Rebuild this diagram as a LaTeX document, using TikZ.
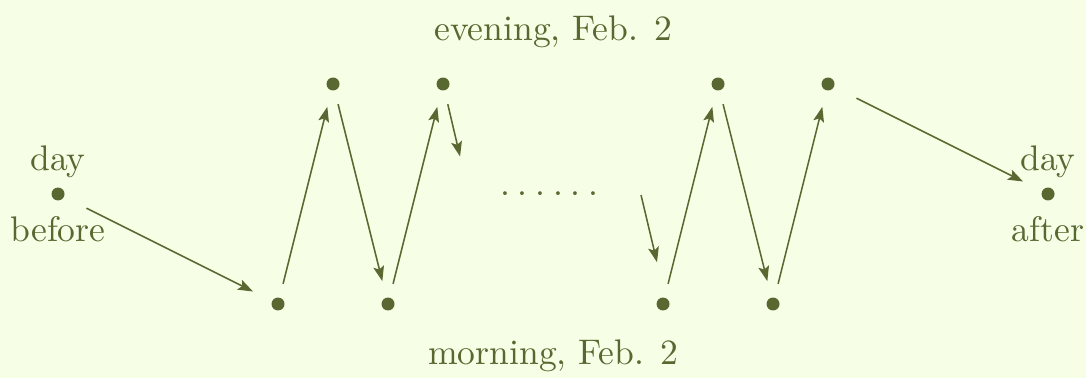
\documentclass[tikz,border=0pt]{standalone}
\usetikzlibrary{arrows.meta, positioning}
% use the 10pt design at every size
\DeclareFontShape{TU}{lmr}{m}{n}{<-> \UnicodeFontFile{lmroman10-regular}{\UnicodeFontTeXLigatures}}{}

\definecolor{paper}{RGB}{246,255,230}
\definecolor{olive}{RGB}{89,103,49}

\tikzset{
    dot/.style={circle, fill=olive, inner sep=0pt, outer sep=0pt, minimum size=0.236cm},
    hop/.style={-{Stealth[length=7.8pt, width=5.6pt, inset=1.6pt]}, line width=0.8pt, draw=olive,
        shorten <=0.26cm, shorten >=0.31cm},
    leap/.style={hop, shorten <=0.46cm, shorten >=0.39cm}
}

\begin{document}
\begin{tikzpicture}[font=\fontsize{18.4}{22}\selectfont, text=olive]
    % Background and page size
    \fill[paper] (-1.055,-3.345) rectangle (18.69,3.527);
    \useasboundingbox (-1.055,-3.345) rectangle (18.69,3.527);

    % Define the dots
    \node[dot] (before) at (0,0) {};
    \node[dot] (m1) at (4,-2) {};
    \node[dot] (e1) at (5,2) {};
    \node[dot] (m2) at (6,-2) {};
    \node[dot] (e2) at (7,2) {};

    \node[dot] (m3) at (11,-2) {};
    \node[dot] (e3) at (12,2) {};
    \node[dot] (m4) at (13,-2) {};
    \node[dot] (e4) at (14,2) {};
    \node[dot] (after) at (18,0) {};

    % Free ends of the broken hops
    \coordinate (outA) at (7.38,0.38);
    \coordinate (inA) at (10.6,-0.02);
    \coordinate (inB) at (10.89,-1.24);

    % Labels
    \node (daybefore) at (0,0.58) {day};
    \node (txtbefore) at (0,-0.64) {before};
    \node (dayafter) at (18,0.58) {day};
    \node (txtafter) at (18,-0.64) {after};
    \node (evening) at (9,2.95) {evening, Feb. 2};
    \node (morning) at (9,-2.95) {morning, Feb. 2};
    \node (gap) at (8.93,0) {.\kern4pt.\kern4pt.\kern4pt.\kern4pt.\kern4pt.};

    % Draw the hops
    \draw[leap] (before) -- (m1);
    \draw[hop] (m1) -- (e1);
    \draw[hop] (e1) -- (m2);
    \draw[hop] (m2) -- (e2);
    \draw[hop] (e2) -- (outA);

    \draw[hop, shorten <=0pt, shorten >=0pt] (inA) -- (inB);
    \draw[hop] (m3) -- (e3);
    \draw[hop] (e3) -- (m4);
    \draw[hop] (m4) -- (e4);
    \draw[leap] (e4) -- (after);

\end{tikzpicture}
\end{document}
